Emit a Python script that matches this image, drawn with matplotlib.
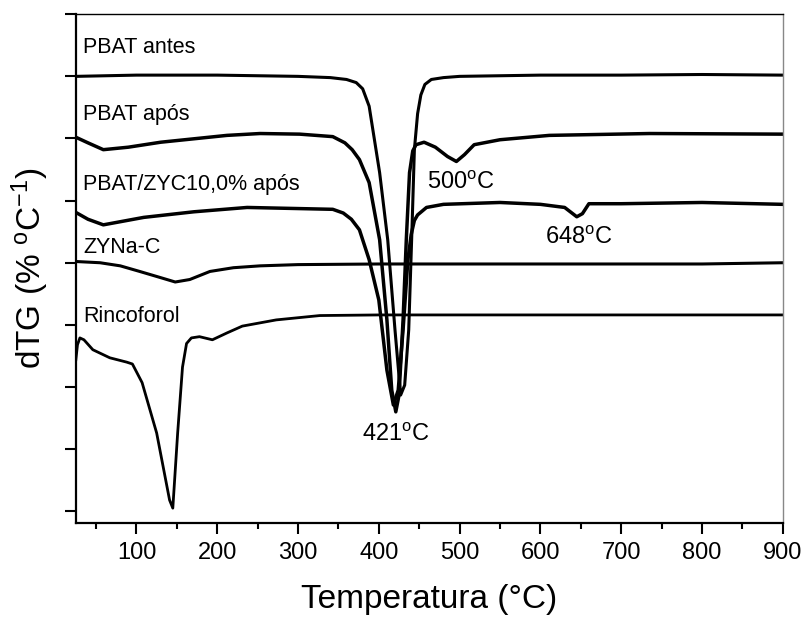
import matplotlib
matplotlib.use("Agg")
import matplotlib.pyplot as plt
from matplotlib.ticker import MultipleLocator

plt.rcParams['font.family'] = ['Liberation Sans', 'DejaVu Sans']
plt.rcParams['mathtext.fontset'] = 'custom'
plt.rcParams['mathtext.rm'] = 'Liberation Sans'
plt.rcParams['mathtext.it'] = 'Liberation Sans:italic'

# curves (T in °C, dTG in arbitrary offset units)
t_antes = [25, 100, 200, 300, 340, 360, 372, 380, 388, 401, 411, 420, 427, 432, 437, 441, 444, 448, 452, 457, 465, 480, 500, 600, 700, 800, 900]
y_antes = [7.00, 7.02, 7.02, 7.00, 6.98, 6.95, 6.90, 6.80, 6.52, 5.45, 4.37, 2.92, 1.87, 2.03, 2.92, 4.53, 5.82, 6.40, 6.70, 6.87, 6.95, 6.98, 7.00, 7.02, 7.02, 7.03, 7.02]

t_apos = [25, 40, 59, 90, 130, 212, 253, 302, 343, 358, 367, 376, 388, 401, 410, 416, 421, 425, 430, 434, 438, 442, 446, 456, 470, 485, 496, 506, 518, 550, 611, 735, 900]
y_apos = [6.02, 5.93, 5.82, 5.86, 5.94, 6.05, 6.08, 6.07, 6.03, 5.93, 5.82, 5.66, 5.29, 4.37, 3.08, 1.95, 1.60, 1.87, 3.08, 4.37, 5.45, 5.80, 5.90, 5.94, 5.86, 5.71, 5.63, 5.74, 5.90, 5.98, 6.05, 6.08, 6.07]

t_zyc = [25, 40, 59, 109, 171, 237, 343, 356, 366, 376, 388, 400, 410, 418, 424, 430, 436, 440, 444, 448, 459, 480, 550, 600, 630, 645, 652, 660, 700, 800, 900]
y_zyc = [4.81, 4.70, 4.61, 4.73, 4.82, 4.89, 4.86, 4.80, 4.70, 4.53, 4.05, 3.40, 2.27, 1.71, 1.95, 2.92, 4.05, 4.45, 4.68, 4.77, 4.89, 4.94, 4.97, 4.94, 4.89, 4.74, 4.79, 4.95, 4.95, 4.97, 4.94]

t_zyna = [25, 55, 80, 104, 130, 148, 166, 191, 220, 253, 300, 401, 500, 600, 700, 800, 900]
y_zyna = [4.02, 4.00, 3.95, 3.86, 3.76, 3.69, 3.73, 3.86, 3.92, 3.95, 3.97, 3.98, 3.98, 3.98, 3.98, 3.98, 4.00]

t_rinc = [25, 27, 30, 35, 46, 67, 88, 95, 107, 125, 141, 145, 151, 157, 162, 168, 178, 194, 212, 231, 273, 327, 400, 500, 600, 700, 800, 900]
y_rinc = [2.44, 2.68, 2.79, 2.76, 2.60, 2.47, 2.40, 2.37, 2.07, 1.26, 0.18, 0.05, 1.26, 2.32, 2.70, 2.79, 2.81, 2.76, 2.87, 2.98, 3.08, 3.15, 3.16, 3.16, 3.16, 3.16, 3.16, 3.16]

names = ['PBAT antes', 'PBAT após', 'PBAT/ZYC10,0% após', 'ZYNa-C', 'Rincoforol']
name_y = [7.47, 6.39, 5.26, 4.24, 3.13]

peaks = ['421', '500', '648']
peak_x = [379, 460, 606]
peak_y = [1.23, 5.29, 4.40]

fig = plt.figure(figsize=(8.07, 6.19), dpi=100)
ax = fig.add_axes([0.094, 0.155, 0.876, 0.822])

ax.plot(t_antes, y_antes, color='k', lw=2.2)
ax.plot(t_apos, y_apos, color='k', lw=2.5)
ax.plot(t_zyc, y_zyc, color='k', lw=2.5)
ax.plot(t_zyna, y_zyna, color='k', lw=2.2)
ax.plot(t_rinc, y_rinc, color='k', lw=2.0)

for n, yy in zip(names, name_y):
    ax.text(34, yy, n, fontsize=15.5, va='center', ha='left')
for p, px, py in zip(peaks, peak_x, peak_y):
    ax.text(px, py, p + '$^{\\rm o}$C', fontsize=17, va='center', ha='left')

ax.set_xlim(25, 900)
ax.set_ylim(-0.19, 8.0)
ax.xaxis.set_major_locator(MultipleLocator(100))
ax.xaxis.set_minor_locator(MultipleLocator(50))
ax.yaxis.set_major_locator(MultipleLocator(1))
ax.set_yticklabels([])
ax.tick_params(axis='both', which='major', direction='out', length=8, width=1.5, labelsize=17, pad=6)
ax.tick_params(axis='x', which='minor', direction='out', length=4, width=1.5)
ax.tick_params(top=False, right=False)

ax.spines['left'].set_linewidth(1.6)
ax.spines['bottom'].set_linewidth(1.6)
ax.spines['top'].set_linewidth(1.0)
ax.spines['right'].set_linewidth(1.0)
ax.spines['right'].set_color('#888888')

ax.set_xlabel('Temperatura (°C)', fontsize=24, labelpad=14)
ax.set_ylabel('dTG (% $^{\\rm o}$C$^{-1}$)', fontsize=24, labelpad=4)

fig.savefig('out.png', dpi=100)
